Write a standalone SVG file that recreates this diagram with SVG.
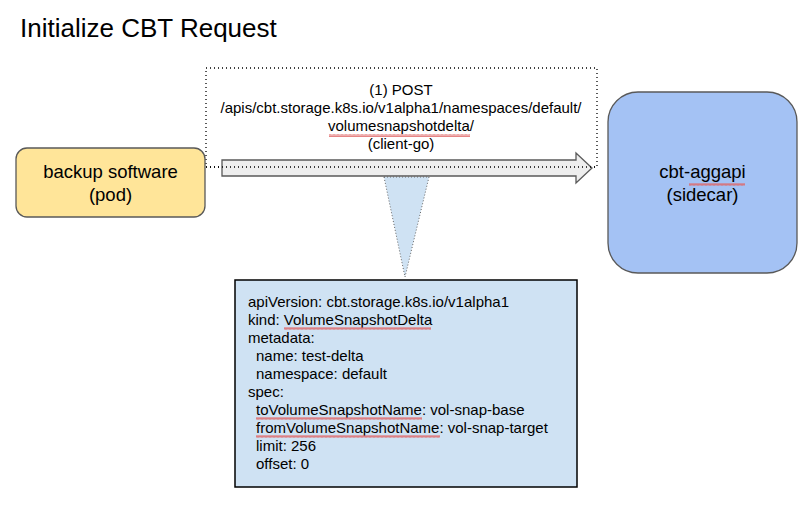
<svg xmlns="http://www.w3.org/2000/svg" width="810" height="507" viewBox="0 0 810 507">
<style>
text{font-family:"Liberation Sans",Arial,sans-serif;fill:#000}
.t15{font-size:15px}
.t17{font-size:18.5px}
.mid{text-anchor:middle}
.node{stroke:#595959;stroke-width:1.3}
.dot{fill:none;stroke:#000;stroke-width:1.3;stroke-dasharray:1 3}
</style>
<defs>
<pattern id="sq" width="4" height="3" patternUnits="userSpaceOnUse">
<path d="M0 2.8 L1 0.2 L2 2.8 L3 0.2 L4 2.8" fill="none" stroke="#e06666" stroke-width="0.8"/>
</pattern>
</defs>
<rect width="810" height="507" fill="#fff"/>
<text x="20" y="37" style="font-size:26px">Initialize CBT Request</text>

<g id="connectors">
<rect class="dot" x="206" y="68" width="391" height="99"/>
<path d="M222 160 H576 V153 L592 168 L576 183 V176 H222 Z" fill="#eeeeee" stroke="#595959" stroke-width="1.3"/>
<line class="dot" x1="206" y1="167" x2="597" y2="167"/>
<g class="t15 mid">
<text x="401" y="95">(1) POST</text>
<text x="401" y="113">/apis/cbt.storage.k8s.io/v1alpha1/namespaces/default/</text>
<text x="401" y="131">volumesnapshotdelta/</text>
<text x="401" y="149">(client-go)</text>
</g>
<rect x="329" y="134" width="141" height="3" fill="url(#sq)"/>
<path d="M384 177 L429 177 L405 277 Z" fill="#cfe2f3" stroke="#666" stroke-width="1" stroke-dasharray="1 2"/>
</g>

<g id="backup">
<rect class="node" x="16" y="148" width="189" height="69" rx="11" fill="#ffe599"/>
<text class="t17 mid" x="110.5" y="178">backup software</text>
<text class="t17 mid" x="110.5" y="201">(pod)</text>
</g>

<g id="sidecar">
<rect class="node" x="608" y="92" width="189" height="181" rx="30" fill="#a4c2f4"/>
<text class="t17 mid" x="702.5" y="178">cbt-aggapi</text>
<text class="t17 mid" x="702.5" y="201">(sidecar)</text>
<rect x="689" y="183" width="56" height="3" fill="url(#sq)"/>
</g>

<g id="request">
<rect x="235" y="280" width="342" height="207" fill="#cfe2f3" stroke="#000" stroke-width="1.5"/>
<g class="t15">
<text x="248" y="307">apiVersion: cbt.storage.k8s.io/v1alpha1</text>
<text x="248" y="325">kind: VolumeSnapshotDelta</text>
<text x="248" y="343">metadata:</text>
<text x="256" y="361">name: test-delta</text>
<text x="256" y="379">namespace: default</text>
<text x="248" y="397">spec:</text>
<text x="256" y="415">toVolumeSnapshotName: vol-snap-base</text>
<text x="256" y="433">fromVolumeSnapshotName: vol-snap-target</text>
<text x="256" y="451">limit: 256</text>
<text x="256" y="469">offset: 0</text>
</g>
<rect x="284" y="327" width="147" height="3" fill="url(#sq)"/>
<rect x="256" y="417" width="166" height="3" fill="url(#sq)"/>
<rect x="256" y="435" width="184" height="3" fill="url(#sq)"/>
</g>
</svg>
